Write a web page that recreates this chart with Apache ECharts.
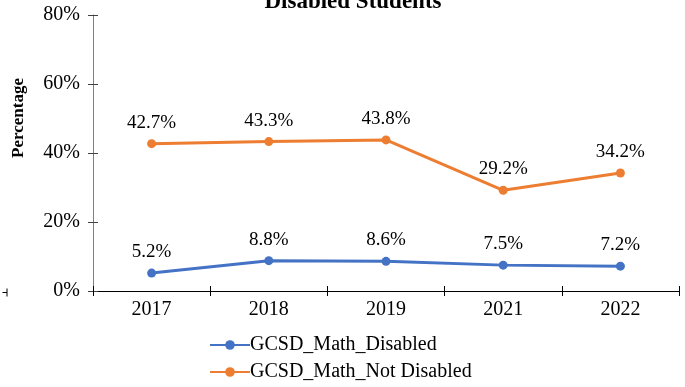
<!DOCTYPE html>
<html>
<head>
<meta charset="utf-8">
<script src="https://cdn.jsdelivr.net/npm/echarts@6/dist/echarts.min.js"></script>
<style>
  html, body { margin: 0; padding: 0; background: #fff; }
  #chart { width: 685px; height: 387px; }
</style>
</head>
<body>
<div id="chart"></div>
<script>
// Math proficiency rates, students with and without disabilities
const years = ['2017', '2018', '2019', '2021', '2022'];
const mathDisabled = [5.2, 8.8, 8.6, 7.5, 7.2];
const mathNotDisabled = [42.7, 43.3, 43.8, 29.2, 34.2];
const seriesNames = ['GCSD_Math_Disabled', 'GCSD_Math_Not Disabled'];
const chartTitle = 'Disabled Students';
const yAxisTitle = 'Percentage';

const serif = '"Liberation Serif", "Times New Roman", serif';

const chart = echarts.init(document.getElementById('chart'), null, { renderer: 'canvas' });

const labelStyle = {
  show: true,
  position: 'top',
  distance: 7,
  fontFamily: serif,
  fontSize: 19,
  color: '#000',
  formatter: p => p.value.toFixed(1) + '%'
};

chart.setOption({
  animation: false,
  backgroundColor: '#fff',
  title: {
    text: chartTitle,
    left: 348,
    textAlign: 'center',
    top: -14,
    textStyle: { fontFamily: serif, fontWeight: 'bold', fontSize: 23, color: '#000' }
  },
  grid: { left: 93, right: 6, top: 15, bottom: 96, containLabel: false, outerBoundsMode: 'none' },
  legend: {
    orient: 'vertical',
    left: 209,
    top: 335,
    padding: 0,
    itemWidth: 40,
    itemHeight: 12,
    itemGap: 7,
    textStyle: { fontFamily: serif, fontSize: 20, color: '#000', padding: [0, 0, 0, -5], lineHeight: 20 },
    data: seriesNames
  },
  xAxis: [{
    type: 'category',
    data: years,
    boundaryGap: true,
    axisLine: { lineStyle: { color: '#000', width: 1 } },
    axisTick: { show: true, length: 5, alignWithLabel: false, lineStyle: { color: '#000' } },
    axisLabel: { fontFamily: serif, fontSize: 20, color: '#000', margin: 9 }
  }, {
    type: 'category',
    data: years,
    position: 'bottom',
    boundaryGap: true,
    axisLine: { show: false },
    axisTick: { show: true, inside: true, length: 5, lineStyle: { color: '#000' } },
    axisLabel: { show: false }
  }],
  yAxis: [{
    type: 'value',
    min: 0,
    max: 80,
    interval: 20,
    name: yAxisTitle,
    nameLocation: 'middle',
    nameRotate: 90,
    nameGap: 66,
    nameTextStyle: { fontFamily: serif, fontWeight: 'bold', fontSize: 17, color: '#000', padding: [0, 0, 0, 70] },
    splitLine: { show: false },
    axisLine: { show: true, lineStyle: { color: '#7f7f7f', width: 1 } },
    axisTick: { show: true, length: 5, lineStyle: { color: '#404040' } },
    axisLabel: { fontFamily: serif, fontSize: 20, color: '#000', margin: 13, formatter: v => v + '%' }
  }, {
    type: 'value',
    min: 0,
    max: 80,
    interval: 20,
    position: 'left',
    splitLine: { show: false },
    axisLine: { show: false },
    axisTick: { show: true, inside: true, length: 5, lineStyle: { color: '#404040' } },
    axisLabel: { show: false }
  }],
  series: [{
    name: seriesNames[0],
    type: 'line',
    data: mathDisabled,
    symbol: 'circle',
    symbolSize: 9,
    color: '#4472C4',
    lineStyle: { width: 3, color: '#4472C4' },
    itemStyle: { color: '#4472C4' },
    label: labelStyle
  }, {
    name: seriesNames[1],
    type: 'line',
    data: mathNotDisabled,
    symbol: 'circle',
    symbolSize: 9,
    color: '#ED7D31',
    lineStyle: { width: 3, color: '#ED7D31' },
    itemStyle: { color: '#ED7D31' },
    label: labelStyle
  }],
  graphic: [{
    // stray tick fragment at the left edge of the frame
    type: 'group',
    left: 0,
    top: 286,
    children: [
      { type: 'line', shape: { x1: 4.5, y1: 0, x2: 4.5, y2: 8 }, style: { stroke: '#000', lineWidth: 1 } },
      { type: 'line', shape: { x1: 0, y1: 4, x2: 4.5, y2: 4 }, style: { stroke: '#000', lineWidth: 1 } }
    ]
  }]
});
</script>
</body>
</html>
